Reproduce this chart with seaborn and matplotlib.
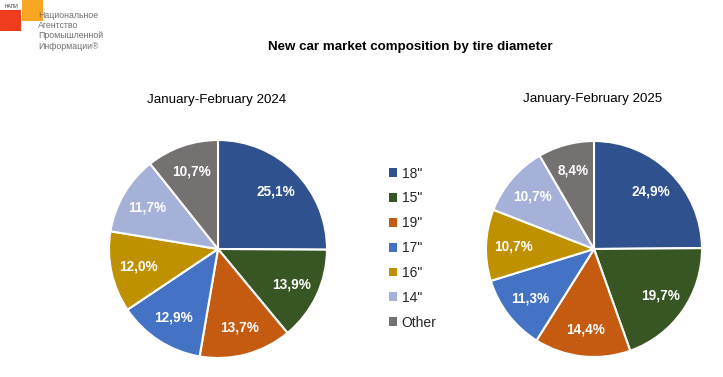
import matplotlib
matplotlib.use("Agg")
import matplotlib.pyplot as plt
import seaborn as sns
import numpy as np
from matplotlib.patches import Rectangle, Patch

sns.set_theme(style="white")
plt.rcParams['font.family'] = ['Liberation Sans', 'DejaVu Sans']

categories = ['18"', '15"', '19"', '17"', '16"', '14"', 'Other']
values_2024 = [25.1, 13.9, 13.7, 12.9, 12.0, 11.7, 10.7]
values_2025 = [24.9, 19.7, 14.4, 11.3, 10.7, 10.7, 8.4]
colors = ['#2F528F', '#375623', '#C55A11', '#4472C4', '#BF9000', '#A5B1D9', '#767171']
title = "New car market composition by tire diameter"
sub_2024 = "January-February 2024"
sub_2025 = "January-February 2025"

palette = sns.color_palette(colors)

fig = plt.figure(figsize=(7.23, 3.77), dpi=100)
W, H = 723, 377

def add_pie(cx, cy, r, vals):
    ax = fig.add_axes([(cx - r) / W, 1 - (cy + r) / H, 2 * r / W, 2 * r / H])
    wedges, _ = ax.pie(vals, colors=palette, startangle=90, counterclock=False,
                       wedgeprops=dict(edgecolor='white', linewidth=1.5))
    for w, v in zip(wedges, vals):
        mid = np.deg2rad((w.theta1 + w.theta2) / 2)
        d = 0.75
        ax.text(d * np.cos(mid), d * np.sin(mid), f"{v:.1f}".replace('.', ',') + '%',
                ha='center', va='center', color='white', fontsize=9.8, fontweight='bold')
    ax.set_xlim(-1, 1)
    ax.set_ylim(-1, 1)
    ax.set_aspect('equal')
    ax.axis('off')
    return wedges

add_pie(218, 249, 109, values_2024)
add_pie(594, 249, 108, values_2025)

fig.text(410 / W, 1 - 47 / H, title, ha='center', va='center', fontsize=9.6, fontweight='bold', color='black')
fig.text(217 / W, 1 - 100 / H, sub_2024, ha='center', va='center', fontsize=9.6, color='black')
fig.text(593 / W, 1 - 99 / H, sub_2025, ha='center', va='center', fontsize=9.6, color='black')

handles = [Patch(facecolor=c, edgecolor='none') for c in palette]
fig.legend(handles, categories, loc='upper left', bbox_to_anchor=(383 / W, 1 - 161 / H),
           frameon=False, fontsize=10, handlelength=0.6, handleheight=0.6,
           handletextpad=0.35, labelspacing=0.78, borderaxespad=0)

# Logo
fig.patches.append(Rectangle((0, 1 - 31 / H), 21 / W, 21 / H, transform=fig.transFigure,
                             facecolor='#F03C1E', edgecolor='none'))
fig.patches.append(Rectangle((22 / W, 1 - 21 / H), 21 / W, 21 / H, transform=fig.transFigure,
                             facecolor='#F6A623', edgecolor='none'))
fig.text(5 / W, 1 - 6 / H, 'НАПИ', fontsize=3.5, color='#333333', va='center', ha='left')
logo_lines = ['Национальное', 'Агентство', 'Промышленной', 'Информации®']
for i, t in enumerate(logo_lines):
    fig.text(38 / W, 1 - (15 + 10.5 * i) / H, t, fontsize=6.3, color='#707070',
             va='center', ha='left', fontstretch='condensed')

fig.savefig('out.png', dpi=100)
